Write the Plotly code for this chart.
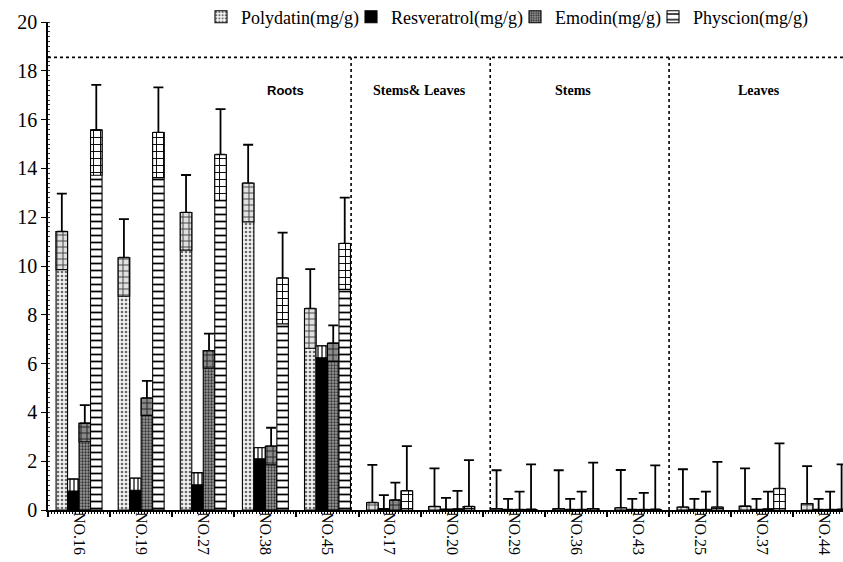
import plotly.graph_objects as go

categories = ["NO.16", "NO.19", "NO.27", "NO.38", "NO.45",
              "NO.17", "NO.20",
              "NO.29", "NO.36", "NO.43",
              "NO.25", "NO.37", "NO.44"]

polydatin = [11.41, 10.34, 12.19, 13.39, 8.25, 0.30, 0.14, 0.05, 0.05, 0.08, 0.11, 0.15, 0.25]
polydatin_sd = [1.56, 1.58, 1.54, 1.58, 1.62, 1.55, 1.57, 1.58, 1.58, 1.56, 1.56, 1.56, 1.55]

resveratrol = [0.78, 0.81, 1.03, 2.10, 6.24, 0.05, 0.02, 0.01, 0.01, 0.01, 0.01, 0.01, 0.01]
resveratrol_sd = [0.48, 0.49, 0.49, 0.45, 0.48, 0.56, 0.48, 0.45, 0.45, 0.45, 0.45, 0.45, 0.45]
resveratrol_box = [0.48, 0.49, 0.49, 0.45, 0.48, 0, 0, 0, 0, 0, 0, 0, 0]

emodin = [3.55, 4.58, 6.52, 2.61, 6.83, 0.40, 0.03, 0.01, 0.01, 0.01, 0.01, 0.03, 0.01]
emodin_sd = [0.75, 0.71, 0.71, 0.76, 0.74, 0.72, 0.75, 0.74, 0.74, 0.69, 0.74, 0.72, 0.74]

physcion = [15.57, 15.47, 14.56, 9.50, 10.92, 0.78, 0.14, 0.02, 0.05, 0.02, 0.11, 0.87, 0.02]
physcion_sd = [1.85, 1.85, 1.87, 1.87, 1.88, 1.84, 1.90, 1.85, 1.89, 1.81, 1.86, 1.86, 1.85]

group_names = ["Roots", "Stems& Leaves", "Stems", "Leaves"]

SERIF = "Liberation Serif"
LINE = dict(color="black", width=1.1)

fig = go.Figure()

def add_series(name, vals, sd, group, pattern, color, box_pattern, box_color, lw):
    fig.add_trace(go.Bar(
        x=categories, y=vals, name=name, offsetgroup=group, legendwidth=lw,
        marker=dict(color=color, line=LINE, pattern=pattern),
        error_y=dict(type="data", symmetric=False, array=sd,
                     arrayminus=[0] * len(sd), color="black", thickness=1.8, width=5),
    ))
    bases = [max(0.0, v - s) for v, s in zip(vals, sd)]
    heights = [v - b for v, b in zip(vals, bases)]
    fig.add_trace(go.Bar(
        x=categories, y=heights, base=bases, offsetgroup=group, showlegend=False,
        hoverinfo="skip",
        marker=dict(color=box_color, line=LINE, pattern=box_pattern),
    ))

add_series("Polydatin(mg/g)", polydatin, polydatin_sd, "p",
           dict(shape=".", fgcolor="#6a6a6a", bgcolor="#f2f2f2", size=4, solidity=0.35),
           "#f2f2f2",
           dict(shape="+", fgcolor="#444", bgcolor="#e0e0e0", size=6, solidity=0.3),
           "#e0e0e0", 105)

# Resveratrol: solid black with a striped upper box
fig.add_trace(go.Bar(
    x=categories, y=resveratrol, name="Resveratrol(mg/g)", offsetgroup="r", legendwidth=119,
    marker=dict(color="black", line=LINE),
    error_y=dict(type="data", symmetric=False, array=resveratrol_sd,
                 arrayminus=[0] * len(resveratrol_sd), color="black", thickness=1.8, width=5),
))
fig.add_trace(go.Bar(
    x=categories, y=[b if b > 0 else None for b in resveratrol_box], base=resveratrol,
    offsetgroup="r", showlegend=False, hoverinfo="skip",
    marker=dict(color="white", line=LINE,
                pattern=dict(shape="|", fgcolor="black", bgcolor="white", size=4, solidity=0.3)),
))

add_series("Emodin(mg/g)", emodin, emodin_sd, "e",
           dict(shape=".", fgcolor="#333", bgcolor="#9a9a9a", size=3, solidity=0.45),
           "#9a9a9a",
           dict(shape="+", fgcolor="#222", bgcolor="#8a8a8a", size=6, solidity=0.3),
           "#8a8a8a", 93)

add_series("Physcion(mg/g)", physcion, physcion_sd, "ph",
           dict(shape="-", fgcolor="black", bgcolor="white", size=7, solidity=0.25),
           "white",
           dict(shape="+", fgcolor="black", bgcolor="white", size=7, solidity=0.25),
           "white", 116)

# invisible trace to carry the minor-tick axis
fig.add_trace(go.Scatter(x=[0], y=[0], xaxis="x2", mode="markers",
                         marker=dict(opacity=0), showlegend=False, hoverinfo="skip"))

XR = [-0.5, 12.3]
TOP = 18.55
shapes = [dict(type="line", xref="paper", yref="y", x0=0, x1=1, y0=TOP, y1=TOP,
               line=dict(color="black", width=1.6, dash="dot"))]
for xv in [4.38, 6.62, 9.5]:
    shapes.append(dict(type="line", xref="x", yref="y", x0=xv, x1=xv, y0=0, y1=TOP,
                       line=dict(color="black", width=1.6, dash="dot")))

annotations = [
    dict(x=3.33, y=17.2, text="<b>Roots</b>", showarrow=False,
         font=dict(family="Liberation Sans", size=13, color="black")),
    dict(x=5.48, y=17.2, text="<b>Stems& Leaves</b>", showarrow=False,
         font=dict(family=SERIF, size=14, color="black")),
    dict(x=7.96, y=17.2, text="<b>Stems</b>", showarrow=False,
         font=dict(family=SERIF, size=14, color="black")),
    dict(x=10.95, y=17.2, text="<b>Leaves</b>", showarrow=False,
         font=dict(family=SERIF, size=14, color="black")),
]

fig.update_layout(
    template="none",
    width=843, height=562,
    margin=dict(l=48, r=0, t=22, b=52, autoexpand=False),
    paper_bgcolor="white", plot_bgcolor="white",
    barmode="group", bargap=0.26, bargroupgap=0,
    font=dict(family=SERIF, color="black"),
    showlegend=True,
    legend=dict(orientation="h", x=0.578, xanchor="center", y=1.01, yanchor="middle",
                font=dict(family=SERIF, size=18, color="black"),
                bgcolor="rgba(0,0,0,0)", traceorder="normal", itemwidth=30),
    xaxis=dict(type="category", categoryorder="array", categoryarray=categories,
               range=XR, tickangle=90, tickson="boundaries", ticks="outside",
               ticklen=5, tickwidth=1.5, tickcolor="black", ticklabelstandoff=-3,
               showline=True, linecolor="black", linewidth=1.6,
               showgrid=False, zeroline=False, automargin=False,
               tickfont=dict(family=SERIF, size=16, color="black")),
    xaxis2=dict(overlaying="x", anchor="y", side="bottom", type="linear", range=XR,
                dtick=0.05, tick0=-0.5, ticks="outside", ticklen=3, tickwidth=1,
                tickcolor="black", showticklabels=False, showgrid=False,
                zeroline=False, showline=False, automargin=False),
    yaxis=dict(range=[0, 20], dtick=2, ticks="outside", ticklen=5, tickwidth=1.2,
               tickcolor="black", showline=True, linecolor="black", linewidth=1.6,
               showgrid=False, zeroline=False, automargin=False,
               tickfont=dict(family=SERIF, size=20, color="black"),
               minor=dict(ticks="inside", dtick=0.2, ticklen=2, tickcolor="#333",
                          showgrid=False)),
    shapes=shapes,
    annotations=annotations,
)

fig.write_html("out.html", config={"displayModeBar": False},
               post_script="document.body.style.margin='0';document.body.style.padding='0';")
